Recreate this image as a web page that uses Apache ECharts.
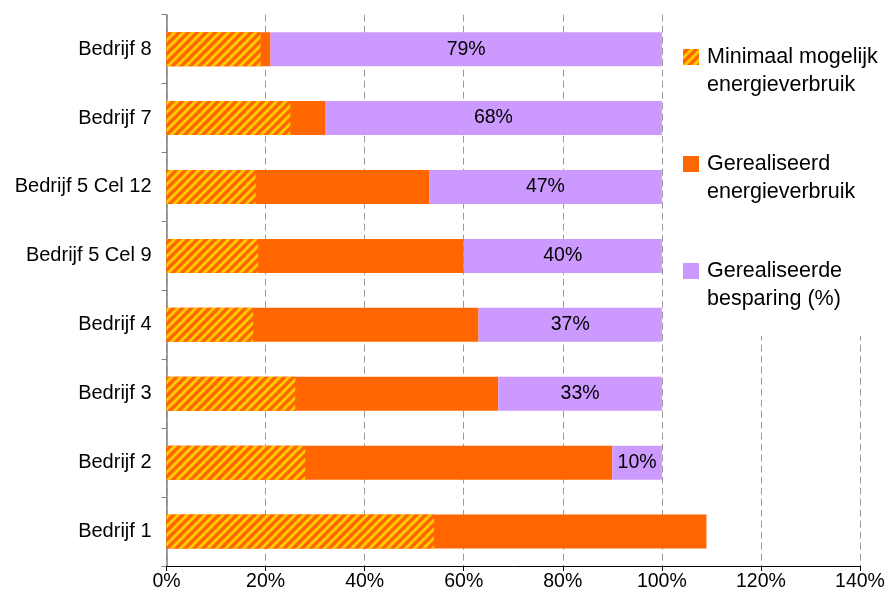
<!DOCTYPE html>
<html>
<head>
<meta charset="utf-8">
<script src="https://cdn.jsdelivr.net/npm/echarts@6/dist/echarts.min.js"></script>
<style>
html,body{margin:0;padding:0;background:#fff;}
#chart{width:891px;height:604px;}
</style>
</head>
<body>
<div id="chart"></div>
<script>
const categories = ['Bedrijf 8','Bedrijf 7','Bedrijf 5 Cel 12','Bedrijf 5 Cel 9','Bedrijf 4','Bedrijf 3','Bedrijf 2','Bedrijf 1'];
const minimal  = [19, 25, 18, 18.5, 17.5, 26, 28, 54];
const realized = [21, 32, 53, 60, 63, 67, 90, 109];
const savings  = [79, 68, 47, 40, 37, 33, 10, null];
const xTicks = { min: 0, max: 140, interval: 20 };
const seriesNames = ['Minimaal mogelijk\nenergieverbruik', 'Gerealiseerd\nenergieverbruik', 'Gerealiseerde\nbesparing (%)'];

function makeHatch() {
  const n = 9;
  const c = document.createElement('canvas');
  c.width = n; c.height = n;
  const g = c.getContext('2d');
  g.fillStyle = '#FF6600';
  g.fillRect(0, 0, n, n);
  g.strokeStyle = '#FFCC00';
  g.lineWidth = 2.9;
  [0, n, 2 * n].forEach(k => {
    g.beginPath();
    g.moveTo(k + 2, -2);
    g.lineTo(k - n - 2, n + 2);
    g.stroke();
  });
  return c;
}

const FONT = "'Liberation Sans', Arial, sans-serif";
const chart = echarts.init(document.getElementById('chart'), null, { renderer: 'canvas' });
const hatch = { image: makeHatch(), repeat: 'repeat' };

chart.setOption({
  animation: false,
  backgroundColor: '#fff',
  textStyle: { fontFamily: FONT },
  grid: { left: 166.5, right: 31, top: 14.7, bottom: 38, containLabel: false },
  legend: {
    orient: 'vertical',
    left: 670, top: 14,
    padding: [1, 10, 23, 13],
    backgroundColor: '#fff',
    itemWidth: 16, itemHeight: 16, itemGap: 23,
    icon: 'rect',
    data: seriesNames,
    selectedMode: false,
    formatter: name => '\n' + name,
    textStyle: { fontFamily: FONT, fontSize: 21.5, lineHeight: 28, color: '#000', padding: [0, 0, 0, 3] }
  },
  xAxis: {
    type: 'value',
    min: xTicks.min, max: xTicks.max, interval: xTicks.interval,
    axisLine: { show: true, lineStyle: { color: '#000', width: 1 } },
    axisTick: { show: true, length: 5, lineStyle: { color: '#000' } },
    axisLabel: { formatter: '{value}%', fontSize: 19.5, color: '#000', margin: 6, fontFamily: FONT },
    splitLine: { show: true, lineStyle: { color: '#9a9a9a', type: [7, 4], width: 1 } }
  },
  yAxis: {
    type: 'category',
    inverse: true,
    data: categories,
    axisLine: { show: true, lineStyle: { color: '#808080', width: 1.5 } },
    axisTick: { show: true, length: 5, inside: false, lineStyle: { color: '#808080' } },
    axisLabel: { fontSize: 20, color: '#000', margin: 15, fontFamily: FONT },
    splitLine: { show: false }
  },
  series: [
    {
      name: seriesNames[1], type: 'bar', stack: 'total', data: realized,
      barWidth: 34, barGap: '-100%',
      itemStyle: { color: '#FF6600' }
    },
    {
      name: seriesNames[2], type: 'bar', stack: 'total', data: savings,
      barWidth: 34, barGap: '-100%',
      itemStyle: { color: '#CC99FF' },
      label: { show: true, position: 'inside', formatter: '{c}%', fontSize: 19.5, color: '#000', fontFamily: FONT }
    },
    {
      name: seriesNames[0], type: 'bar', data: minimal,
      barWidth: 34, barGap: '-100%',
      itemStyle: { color: hatch }
    }
  ]
});
</script>
</body>
</html>
